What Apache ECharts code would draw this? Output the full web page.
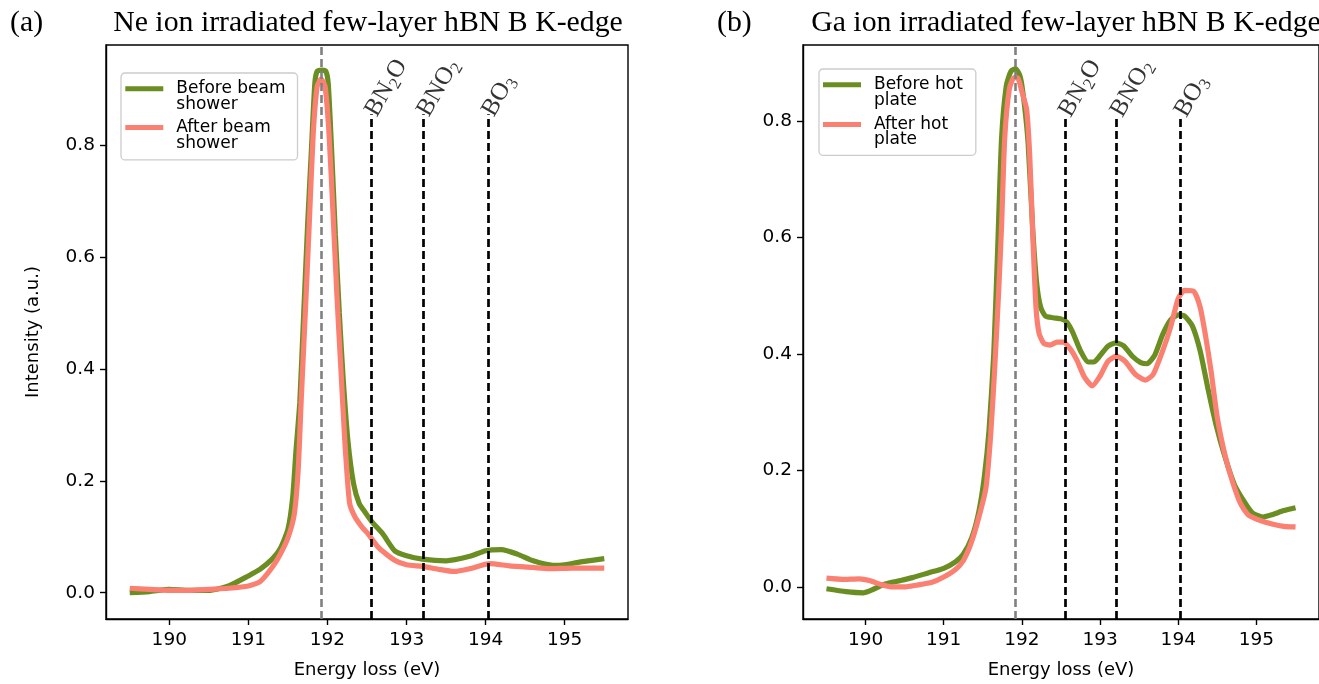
<!DOCTYPE html>
<html><head><meta charset="utf-8">
<script src="https://cdn.jsdelivr.net/npm/echarts@6/dist/echarts.min.js"></script>
<style>html,body{margin:0;padding:0;background:#fff}#c{width:1319px;height:684px}</style>
</head><body><div id="c"></div>
<script>
// ---------- data ----------
const xTicks = [190, 191, 192, 193, 194, 195];
const yTicks = [0, 0.2, 0.4, 0.6, 0.8];
const xRange = [189.2, 195.8];
const yRangeA = [-0.047, 0.979];
const yRangeB = [-0.055, 0.930];
const mainPeakEnergy = 191.92;
const oxideEnergies = [192.55, 193.21, 194.03];
const oxideLabels = ['BN2O', 'BNO2', 'BO3'];
const oxideTopA = 0.855;
const oxideTopB = 0.81;
const panelTitles = ['Ne ion irradiated few-layer hBN B K-edge', 'Ga ion irradiated few-layer hBN B K-edge'];
const panelTags = ['(a)', '(b)'];
const xAxisName = 'Energy loss (eV)';
const yAxisName = 'Intensity (a.u.)';
const namesA = ['Before beam\nshower', 'After beam\nshower'];
const namesB = ['Before hot\nplate', 'After hot\nplate'];

// (a) Ne, before beam shower
const neBeforeE = [189.5,189.75,190.0,190.25,190.5,190.75,191.0,191.15,191.3,191.4,191.5,191.56,191.6,191.65,191.7,191.75,191.8,191.84,191.87,191.93,191.98,192.01,192.05,192.1,192.15,192.2,192.26,192.33,192.4,192.48,192.56,192.7,192.85,193.0,193.2,193.5,193.8,194.0,194.2,194.4,194.6,194.85,195.0,195.2,195.5];
const neBeforeI = [0.000,0.002,0.006,0.004,0.004,0.012,0.030,0.042,0.060,0.078,0.113,0.170,0.250,0.340,0.500,0.660,0.800,0.910,0.932,0.934,0.932,0.910,0.800,0.640,0.500,0.380,0.270,0.195,0.160,0.143,0.127,0.105,0.075,0.066,0.060,0.057,0.065,0.075,0.077,0.069,0.057,0.049,0.050,0.055,0.061];
// (a) Ne, after beam shower
const neAfterE = [189.5,189.75,190.0,190.25,190.5,190.75,191.0,191.15,191.3,191.4,191.5,191.58,191.63,191.67,191.72,191.77,191.82,191.87,191.92,191.97,192.02,192.07,192.12,192.17,192.22,192.28,192.35,192.45,192.51,192.65,192.85,193.0,193.2,193.4,193.6,193.8,194.05,194.3,194.6,194.8,195.1,195.5];
const neAfterI = [0.008,0.006,0.004,0.004,0.006,0.008,0.012,0.020,0.045,0.068,0.098,0.140,0.220,0.350,0.500,0.660,0.820,0.905,0.918,0.905,0.820,0.680,0.530,0.400,0.270,0.160,0.135,0.115,0.106,0.080,0.058,0.050,0.047,0.042,0.038,0.043,0.052,0.048,0.045,0.043,0.044,0.044];
// (b) Ga, before hot plate
const gaBeforeE = [189.5,189.75,189.97,190.1,190.25,190.45,190.6,190.8,191.0,191.15,191.25,191.36,191.45,191.52,191.58,191.64,191.69,191.74,191.8,191.86,191.92,191.98,192.03,192.08,192.14,192.19,192.24,192.3,192.4,192.5,192.57,192.65,192.75,192.85,192.92,193.0,193.1,193.2,193.3,193.42,193.52,193.6,193.7,193.8,193.9,194.0,194.08,194.18,194.28,194.38,194.48,194.6,194.72,194.85,194.95,195.08,195.2,195.35,195.5];
const gaBeforeI = [-0.003,-0.008,-0.010,-0.004,0.005,0.011,0.016,0.024,0.032,0.043,0.056,0.085,0.130,0.190,0.270,0.400,0.580,0.770,0.860,0.885,0.889,0.875,0.830,0.760,0.610,0.520,0.480,0.465,0.462,0.460,0.455,0.437,0.405,0.386,0.386,0.397,0.413,0.419,0.414,0.395,0.385,0.383,0.398,0.433,0.458,0.467,0.465,0.448,0.405,0.340,0.280,0.222,0.175,0.145,0.127,0.120,0.124,0.131,0.136];
// (b) Ga, after hot plate
const gaAfterE = [189.5,189.7,189.92,190.05,190.2,190.35,190.5,190.65,190.85,191.0,191.15,191.25,191.35,191.45,191.54,191.6,191.65,191.7,191.74,191.78,191.84,191.9,191.95,192.0,192.06,192.1,192.14,192.18,192.22,192.28,192.36,192.45,192.53,192.62,192.7,192.8,192.9,193.0,193.1,193.21,193.32,193.45,193.58,193.68,193.8,193.9,194.0,194.08,194.2,194.28,194.35,194.42,194.5,194.6,194.7,194.8,194.9,195.05,195.2,195.35,195.5];
const gaAfterI = [0.015,0.013,0.014,0.011,0.004,0.000,0.000,0.003,0.008,0.017,0.030,0.045,0.075,0.120,0.170,0.260,0.370,0.500,0.620,0.770,0.855,0.874,0.873,0.850,0.820,0.740,0.600,0.480,0.435,0.418,0.415,0.420,0.420,0.408,0.390,0.360,0.345,0.362,0.387,0.396,0.387,0.365,0.355,0.365,0.405,0.445,0.495,0.509,0.507,0.480,0.430,0.370,0.290,0.225,0.178,0.142,0.123,0.114,0.108,0.104,0.103];

// ---------- styles ----------
const GREEN = '#6b8e23', SALMON = '#fa8072';
const SANS = 'DejaVu Sans', SERIF = 'Liberation Serif';
const zip = (xs, ys) => xs.map((x, i) => [x, ys[i]]);
const legendIcon = 'path://M0,0L0.01,0L0,0.01Z M0,5.25L38,5.25L38,10.25L0,10.25Z M46,31L45.99,31L46,30.99Z';

const grids = [
  {left: 106, top: 45, width: 522, height: 578},
  {left: 803, top: 45, width: 522, height: 578}
];

function xAxisFor(g) {
  return {
    gridIndex: g, type: 'value', min: xRange[0], max: xRange[1],
    name: xAxisName, nameLocation: 'middle', nameGap: 42,
    nameTextStyle: {fontFamily: SANS, fontSize: 18, color: '#000'},
    axisLine: {show: true, onZero: false, lineStyle: {color: '#000', width: 1.4}},
    axisTick: {show: true, length: 6, lineStyle: {color: '#000', width: 1.4}, customValues: xTicks},
    axisLabel: {customValues: xTicks, fontFamily: SANS, fontSize: 18.5, color: '#000', margin: 12},
    splitLine: {show: false}
  };
}
function yAxisFor(g, range, withName) {
  return {
    gridIndex: g, type: 'value', min: range[0], max: range[1],
    name: withName ? yAxisName : '', nameLocation: 'middle', nameGap: 64,
    nameTextStyle: {fontFamily: SANS, fontSize: 18, color: '#000'},
    axisLine: {show: true, onZero: false, lineStyle: {color: '#000', width: 1.4}},
    axisTick: {show: true, length: 6, lineStyle: {color: '#000', width: 1.4}, customValues: yTicks},
    axisLabel: {customValues: yTicks, fontFamily: SANS, fontSize: 18.5, color: '#000', margin: 11,
      formatter: v => Number(v).toFixed(1)},
    splitLine: {show: false}
  };
}
function curve(g, name, data, color, z) {
  return {
    type: 'line', name, xAxisIndex: g, yAxisIndex: g, data,
    showSymbol: false, symbol: 'none', smooth: 0.2, z,
    lineStyle: {color, width: 5.2}, itemStyle: {color},
    emphasis: {disabled: true}, animation: false
  };
}
function refLines(g, range, top) {
  return {
    type: 'scatter', xAxisIndex: g, yAxisIndex: g, z: 6, symbolSize: 0, silent: true,
    data: oxideEnergies.map(e => [e, top]),
    label: {
      show: true, position: 'inside', rotate: 60, align: 'left', verticalAlign: 'middle',
      offset: [0, 0], color: '#000',
      formatter: p => oxideLabels[p.dataIndex].replace(/([A-Z]+)/g, '{n|$1}').replace(/(\d)/g, '{s|$1}'),
      rich: {
        n: {fontFamily: SERIF, fontSize: 25, lineHeight: 30, verticalAlign: 'middle', color: '#000'},
        s: {fontFamily: SERIF, fontSize: 17, lineHeight: 30, verticalAlign: 'bottom', color: '#000'}
      }
    },
    markLine: {
      silent: true, symbol: 'none', animation: false,
      label: {show: false},
      data: [{xAxis: mainPeakEnergy, lineStyle: {color: '#808080', width: 2.6, type: [8, 4]}}]
        .concat(oxideEnergies.map(e => [
          {coord: [e, range[0]], lineStyle: {color: '#000', width: 2.7, type: [8, 4]}},
          {coord: [e, top]}
        ]))
    }
  };
}
function legendFor(names, left, top, pad, gap) {
  return {
    data: names, left, top, orient: 'vertical', itemGap: gap,
    itemWidth: 46, itemHeight: 31, icon: legendIcon, padding: pad,
    borderColor: '#cccccc', borderWidth: 1.3, borderRadius: 4,
    backgroundColor: 'rgba(255,255,255,0.85)',
    itemStyle: {borderWidth: 0},
    textStyle: {fontFamily: SANS, fontSize: 17, lineHeight: 15.5, color: '#000'},
    selectedMode: false
  };
}
const titleStyle = {fontFamily: SERIF, fontSize: 29.8, fontWeight: 'normal', color: '#000'};

const chart = echarts.init(document.getElementById('c'), null, {renderer: 'canvas'});
chart.setOption({
  animation: false,
  backgroundColor: '#fff',
  title: [
    {text: panelTags[0], left: 10, top: 8, padding: 0, textStyle: titleStyle},
    {text: panelTitles[0], left: 368, top: 8, padding: 0, textAlign: 'center', textStyle: titleStyle},
    {text: panelTags[1], left: 717, top: 8, padding: 0, textStyle: titleStyle},
    {text: panelTitles[1], left: 1066, top: 8, padding: 0, textAlign: 'center', textStyle: titleStyle}
  ],
  grid: grids.map(g => Object.assign({show: true, borderColor: '#000', borderWidth: 1.4, backgroundColor: 'transparent', containLabel: false}, g)),
  xAxis: [xAxisFor(0), xAxisFor(1)],
  yAxis: [yAxisFor(0, yRangeA, true), yAxisFor(1, yRangeB, false)],
  legend: [
    legendFor(namesA, 121, 73, [7.2, 12, 8.3, 4.3], 6.4),
    legendFor(namesB, 819, 69, [7.2, 13, 6.8, 4], 7.3)
  ],
  series: [
    curve(0, namesA[0], zip(neBeforeE, neBeforeI), GREEN, 2),
    curve(0, namesA[1], zip(neAfterE, neAfterI), SALMON, 3),
    refLines(0, yRangeA, oxideTopA),
    curve(1, namesB[0], zip(gaBeforeE, gaBeforeI), GREEN, 2),
    curve(1, namesB[1], zip(gaAfterE, gaAfterI), SALMON, 3),
    refLines(1, yRangeB, oxideTopB)
  ]
});
</script>
</body></html>
